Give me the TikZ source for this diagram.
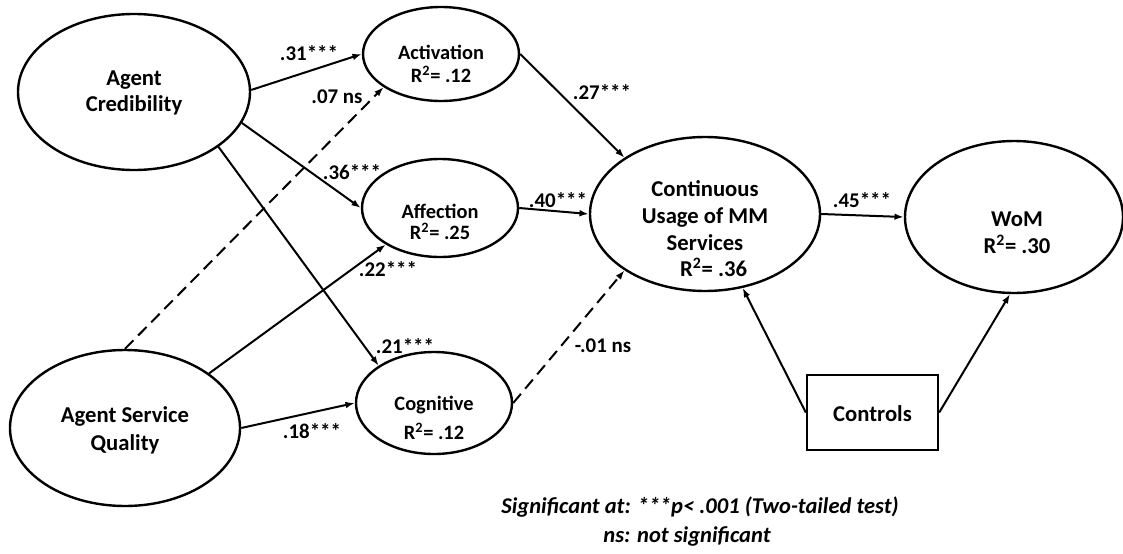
\documentclass[tikz,border=0pt]{standalone}
\usepackage{fontspec}
\setmainfont{Carlito}
\usetikzlibrary{shapes.geometric,arrows.meta}
\begin{document}
\begin{tikzpicture}[x=0.75pt,y=-0.75pt,
  ell/.style={draw, ellipse, line width=1.8pt, inner sep=0pt},
  bigtxt/.style={font=\bfseries\fontsize{17pt}{20pt}\selectfont, align=center, inner sep=0pt},
  smalltxt/.style={font=\bfseries\fontsize{15.3pt}{17pt}\selectfont, align=center, inner sep=0pt},
  lbl/.style={font=\bfseries\fontsize{15.7pt}{18pt}\selectfont, inner sep=0pt},
  note/.style={font=\bfseries\itshape\fontsize{16.9pt}{22pt}\selectfont, align=center, inner sep=0pt},
  arr/.style={line width=1.5pt, -{Latex[length=7pt,width=5pt]}},
  dsh/.style={arr, dash pattern=on 9pt off 5pt}
]
\useasboundingbox (0,0) rectangle (1123,553);

% ellipses
\node[ell, minimum width=174pt, minimum height=117pt] (ac) at (134,92) {};
\node[ell, minimum width=172.5pt, minimum height=117pt] (asq) at (125,428) {};
\node[ell, minimum width=117pt, minimum height=70.5pt] (act) at (441,54) {};
\node[ell, minimum width=117pt, minimum height=73.5pt] (aff) at (440,208) {};
\node[ell, minimum width=117pt, minimum height=76.5pt] (cog) at (434,403) {};
\node[ell, minimum width=172.5pt, minimum height=115.5pt] (cont) at (705,214) {};
\node[ell, minimum width=163.5pt, minimum height=114pt] (wom) at (1014,217) {};
\node[draw, line width=1.8pt, minimum width=98.25pt, minimum height=56.25pt, inner sep=0pt] (ctl) at (872.5,412.5) {};

% texts
\node[bigtxt] (acT) at (134,93) {Agent\\Credibility};
\node[bigtxt, font=\bfseries\fontsize{17pt}{21pt}\selectfont] (asqT) at (125,430) {Agent Service\\Quality};
\node[smalltxt] (actT) at (441,64) {Activation\\R\textsuperscript{2}= .12};
\node[smalltxt, font=\bfseries\fontsize{15.3pt}{16pt}\selectfont] (affT) at (440,222) {Affection\\R\textsuperscript{2}= .25};
\node[smalltxt, font=\bfseries\fontsize{15.3pt}{22pt}\selectfont] (cogT) at (434,418) {Cognitive\\R\textsuperscript{2}= .12};
\node[bigtxt] (contT) at (705,229) {Continuous\\Usage of MM\\Services\\\hspace*{13pt}R\textsuperscript{2}= .36};
\node[bigtxt] (womT) at (1017,233) {WoM\\R\textsuperscript{2}= .30};
\node[bigtxt] (ctlT) at (872.5,414) {Controls};

% connectors
\draw[arr] (ac.1) -- (act.west);
\draw[dsh] (asq.north) -- (act.210);
\draw[arr] (ac.-16) -- (aff.west);
\draw[arr] (ac.-33.5) -- (cog.146.5);
\draw[arr] (asq.33.5) -- (aff.214);
\draw[arr] (asq.east) -- (cog.west);
\draw[arr] (act.east) -- (cont.145.5);
\draw[arr] (aff.east) -- (cont.west);
\draw[dsh] (cog.east) -- (cont.215.3);
\draw[arr] (cont.east) -- (wom.west);
\draw[arr] (ctl.west) -- (cont.-63);
\draw[arr] (ctl.east) -- (wom.267);

% path labels
\node[lbl] (l31) at (309,53) {.31***};
\node[lbl] (l07) at (337,97) {.07 ns};
\node[lbl] (l36) at (352,172) {.36***};
\node[lbl] (l22) at (388,269) {.22***};
\node[lbl] (l21) at (405,346) {.21***};
\node[lbl] (l18) at (312,431) {.18***};
\node[lbl] (l27) at (602,92) {.27***};
\node[lbl] (l40) at (558,200) {.40***};
\node[lbl] (l01) at (603,346) {-.01 ns};
\node[lbl] (l45) at (862,200) {.45***};

% footnote
\node[note] (fn1) at (700,507) {Significant at: ***p< .001 (Two-tailed test)};
\node[note] (fn2) at (687,536) {ns: not significant};
\end{tikzpicture}
\end{document}
